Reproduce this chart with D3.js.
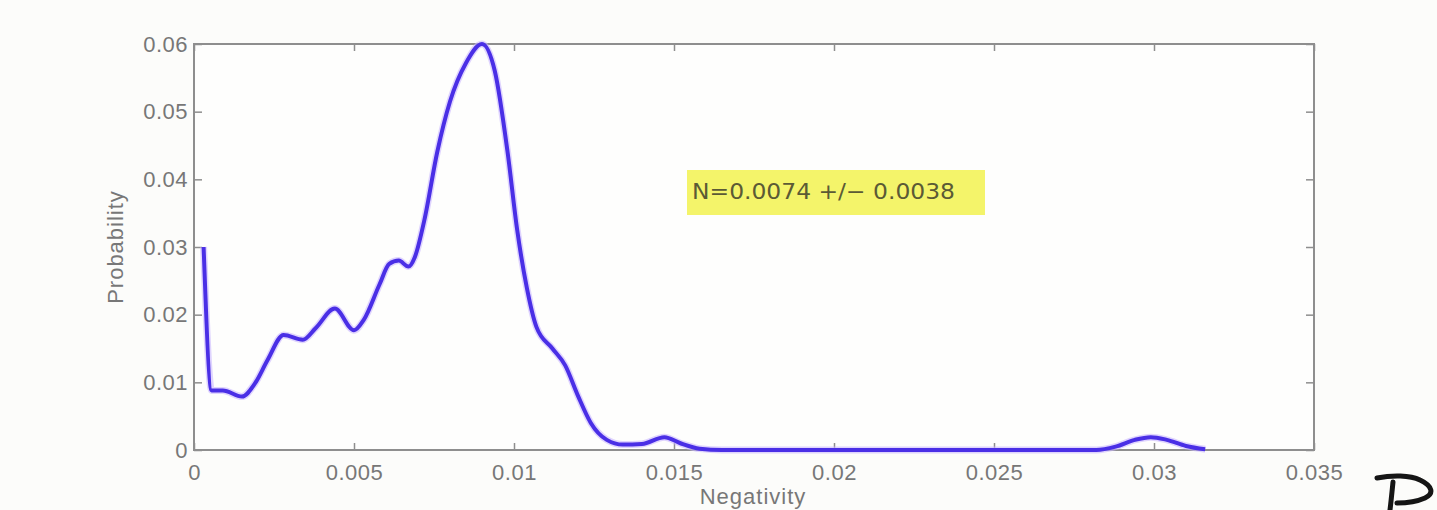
<!DOCTYPE html>
<html>
<head>
<meta charset="utf-8">
<script src="https://d3js.org/d3.v7.min.js"></script>
<style>
  body { margin: 0; background: #fcfcfa; }
  svg { display: block; }
</style>
</head>
<body>
<svg width="1437" height="510"></svg>
<script>
// values
var negativity = [0.0003, 0.00055, 0.0009, 0.0015, 0.0019, 0.0023, 0.0028, 0.0034, 0.0038, 0.0044,
	0.0050, 0.0053, 0.0058, 0.0061, 0.0064, 0.0067, 0.0069, 0.0072, 0.0076, 0.0080,
	0.0085, 0.0090, 0.0094, 0.0098, 0.0101, 0.0104, 0.0107, 0.0112, 0.0116,
	0.0120, 0.0124, 0.0129, 0.0134, 0.0140, 0.0147, 0.0152, 0.0158, 0.0165, 0.020,
	0.025, 0.0282, 0.0288, 0.0294, 0.0299, 0.0304, 0.0310, 0.0316];
var probability = [0.030, 0.0088, 0.0088, 0.0079, 0.0098, 0.0133, 0.0170, 0.0163, 0.0180, 0.0209,
	0.0177, 0.0192, 0.0245, 0.0275, 0.0280, 0.0271, 0.0285, 0.0340, 0.0440, 0.0515,
	0.0572, 0.0600, 0.0560, 0.0440, 0.0325, 0.0240, 0.0182, 0.0150, 0.0125,
	0.0080, 0.0040, 0.0015, 0.0008, 0.0009, 0.0019, 0.0010, 0.0002, 0, 0,
	0, 0, 0.0005, 0.0015, 0.0019, 0.0015, 0.0006, 0.0001];
var xTicks = [0, 0.005, 0.01, 0.015, 0.02, 0.025, 0.03, 0.035];
var yTicks = [0, 0.01, 0.02, 0.03, 0.04, 0.05, 0.06];
var note = "N=0.0074 +/\u2212 0.0038";

var svg = d3.select("svg");
var plotLeft = 194, plotRight = 1314, plotTop = 44, plotBottom = 450;
var axisColor = "#8e8e8e";
var textColor = "#777";
var tickFont = "Liberation Sans, Arial, sans-serif";

var x = d3.scaleLinear().domain([0, 0.035]).range([plotLeft, plotRight]);
var y = d3.scaleLinear().domain([0, 0.06]).range([plotBottom, plotTop]);

function fmt(d) { return d === 0 ? "0" : String(+d.toFixed(3)); }

// box
svg.append("rect")
	.attr("x", plotLeft).attr("y", plotTop)
	.attr("width", plotRight - plotLeft).attr("height", plotBottom - plotTop)
	.attr("fill", "#fefefd")
	.attr("stroke", axisColor)
	.attr("stroke-width", 2);

function styleAxis(g) {
	g.select(".domain").remove();
	g.selectAll(".tick line").attr("stroke", axisColor).attr("stroke-width", 1.5);
	g.selectAll("text")
		.attr("fill", textColor)
		.style("font-family", tickFont)
		.style("font-size", "22px")
		.style("letter-spacing", "0.5px");
}

svg.append("g")
	.attr("transform", "translate(0," + plotBottom + ")")
	.call(d3.axisBottom(x).tickValues(xTicks).tickFormat(fmt).tickSize(-7).tickPadding(14))
	.call(styleAxis);

svg.append("g")
	.attr("transform", "translate(0," + plotTop + ")")
	.call(d3.axisTop(x).tickValues(xTicks).tickFormat("").tickSize(-7))
	.call(styleAxis);

svg.append("g")
	.attr("transform", "translate(" + plotLeft + ",0)")
	.call(d3.axisLeft(y).tickValues(yTicks).tickFormat(fmt).tickSize(-8).tickPadding(6))
	.call(styleAxis);

svg.append("g")
	.attr("transform", "translate(" + plotRight + ",0)")
	.call(d3.axisRight(y).tickValues(yTicks).tickFormat("").tickSize(-8))
	.call(styleAxis);

// axis titles
svg.append("text")
	.attr("x", 753).attr("y", 504)
	.attr("text-anchor", "middle")
	.attr("fill", textColor)
	.style("font-family", tickFont)
	.style("font-size", "22px")
	.style("letter-spacing", "1px")
	.text("Negativity");

svg.append("text")
	.attr("transform", "translate(123,247) rotate(-90)")
	.attr("text-anchor", "middle")
	.attr("fill", textColor)
	.style("font-family", tickFont)
	.style("font-size", "22px")
	.style("letter-spacing", "1px")
	.text("Probability");

// curve
var pts = negativity.map(function(v, i) { return [v, probability[i]]; });
var line = d3.line()
	.x(function(d) { return x(d[0]); })
	.y(function(d) { return y(d[1]); })
	.curve(d3.curveMonotoneX);

svg.append("path")
	.datum(pts)
	.attr("d", line)
	.attr("fill", "none")
	.attr("stroke", "#c9b8ff")
	.attr("stroke-width", 7)
	.attr("stroke-linejoin", "round")
	.attr("opacity", 0.6);

svg.append("path")
	.datum(pts)
	.attr("d", line)
	.attr("fill", "none")
	.attr("stroke", "#4a2fe6")
	.attr("stroke-width", 4)
	.attr("stroke-linejoin", "round");

// annotation
svg.append("rect")
	.attr("x", 687).attr("y", 170)
	.attr("width", 298).attr("height", 45)
	.attr("fill", "#f4f46a");

svg.append("text")
	.attr("x", 692).attr("y", 199)
	.attr("fill", "#5b5a35")
	.style("font-family", "DejaVu Sans, Verdana, sans-serif")
	.style("font-size", "21px")
	.attr("textLength", 263)
	.attr("lengthAdjust", "spacingAndGlyphs")
	.text(note);

// handwritten mark at the corner
svg.append("path")
	.attr("d", "M1393,482 C1392,492 1391,502 1390,510 M1377,478 C1392,475 1410,475 1420,480 C1433,486 1434,494 1425,498 C1416,502 1406,503 1397,503")
	.attr("fill", "none")
	.attr("stroke", "#151515")
	.attr("stroke-width", 5)
	.attr("stroke-linecap", "round")
	.attr("stroke-linejoin", "round");
</script>
</body>
</html>
